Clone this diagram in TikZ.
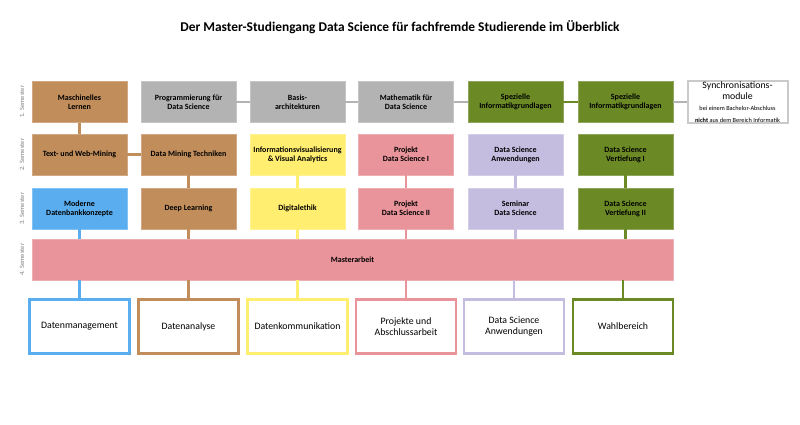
\documentclass[tikz,border=0pt]{standalone}
\usepackage{fontspec}
\setmainfont{Carlito}
\definecolor{braun}{RGB}{193,141,91}
\definecolor{grau}{RGB}{179,179,179}
\definecolor{gelb}{RGB}{255,238,112}
\definecolor{rosa}{RGB}{232,148,154}
\definecolor{lila}{RGB}{196,189,224}
\definecolor{gruen}{RGB}{107,137,37}
\definecolor{blau}{RGB}{90,174,240}

\begin{document}
\begin{tikzpicture}[x=1pt,y=-1pt,
  modul/.style={draw=#1!75!white, fill=#1, minimum width=95pt, minimum height=41pt, inner sep=1pt, align=center, font=\fontsize{8}{9}\selectfont\bfseries},
  bereich/.style={draw=#1, line width=2.2pt, fill=white, minimum width=100pt, minimum height=54pt, align=center, font=\fontsize{9.8}{10.8}\selectfont},
  verb/.style={draw=#1, line width=2.2pt},
  sem/.style={rotate=90, text=gray, font=\fontsize{6.5}{7}\selectfont}]
\useasboundingbox (0,0) rectangle (800,425);

\node (titel) at (400,27) {\fontsize{13.4}{15}\selectfont\bfseries Der Master-Studiengang Data Science für fachfremde Studierende im Überblick};

\node[sem] (s1) at (22,101.5) {1. Semester};
\node[sem] (s2) at (22,154.5) {2. Semester};
\node[sem] (s3) at (22,208.5) {3. Semester};
\node[sem] (s4) at (22,259.5) {4. Semester};

\node[modul=braun] (m11) at (79.5,102) {Maschinelles\\Lernen};
\node[modul=grau] (m12) at (188.5,102) {Programmierung für\\Data Science};
\node[modul=grau] (m13) at (297.5,102) {Basis-\\architekturen};
\node[modul=grau] (m14) at (406,102) {Mathematik für\\Data Science};
\node[modul=gruen] (m15) at (515.5,102) {Spezielle\\Informatikgrundlagen};
\node[modul=gruen] (m16) at (625.5,102) {Spezielle\\Informatikgrundlagen};
\node[draw=grau!70!white, line width=2pt, fill=white, minimum width=100pt, minimum height=41pt, inner sep=1pt, align=center] (sync) at (737.5,102)
  {\fontsize{9.8}{10}\selectfont Synchronisations-\\[-1.5pt]\fontsize{9.8}{10}\selectfont module\\[-1pt]
   \fontsize{6.3}{7}\selectfont bei einem Bachelor-Abschluss\\\fontsize{6.3}{7}\selectfont\textbf{nicht} aus dem Bereich Informatik};

\node[modul=braun] (m21) at (79.5,154.5) {Text- und Web-Mining};
\node[modul=braun] (m22) at (188.5,154.5) {Data Mining Techniken};
\node[modul=gelb] (m23) at (297.5,154.5) {Informationsvisualisierung\\\& Visual Analytics};
\node[modul=rosa] (m24) at (406,154.5) {Projekt\\Data Science I};
\node[modul=lila] (m25) at (515.5,154.5) {Data Science\\Anwendungen};
\node[modul=gruen] (m26) at (625.5,154.5) {Data Science\\Vertiefung I};

\node[modul=blau] (m31) at (79.5,208.5) {Moderne\\Datenbankkonzepte};
\node[modul=braun] (m32) at (188.5,208.5) {Deep Learning};
\node[modul=gelb] (m33) at (297.5,208.5) {Digitalethik};
\node[modul=rosa] (m34) at (406,208.5) {Projekt\\Data Science II};
\node[modul=lila] (m35) at (515.5,208.5) {Seminar\\Data Science};
\node[modul=gruen] (m36) at (625.5,208.5) {Data Science\\Vertiefung II};

\node[modul=rosa, minimum width=641pt] (master) at (352.5,259.5) {Masterarbeit};

\node[bereich=blau] (b1) at (79.5,326.5) {Datenmanagement};
\node[bereich=braun] (b2) at (188.5,326.5) {Datenanalyse};
\node[bereich=gelb] (b3) at (297.5,326.5) {Datenkommunikation};
\node[bereich=rosa] (b4) at (406,326.5) {Projekte und\\Abschlussarbeit};
\node[bereich=lila] (b5) at (514,326.5) {Data Science\\Anwendungen};
\node[bereich=gruen] (b6) at (623,326.5) {Wahlbereich};

\draw[verb=grau] (m12) -- (m13);
\draw[verb=grau] (m13) -- (m14);
\draw[verb=grau] (m14) -- (m15);
\draw[verb=gruen] (m15) -- (m16);
\draw[verb=grau] (m16) -- (sync);
\draw[verb=braun] (m11) -- (m21);
\draw[verb=braun] (m21) -- (m22);
\draw[verb=braun] (m22) -- (m32);
\draw[verb=gelb] (m23) -- (m33);
\draw[verb=rosa] (m24) -- (m34);
\draw[verb=lila] (m25) -- (m35);
\draw[verb=gruen] (m26) -- (m36);

\draw[verb=blau] (m31.south) -- (m31.south |- master.north);
\draw[verb=braun] (m32.south) -- (m32.south |- master.north);
\draw[verb=gelb] (m33.south) -- (m33.south |- master.north);
\draw[verb=rosa] (m34.south) -- (m34.south |- master.north);
\draw[verb=lila] (m35.south) -- (m35.south |- master.north);
\draw[verb=gruen] (m36.south) -- (m36.south |- master.north);

\draw[verb=blau] (b1.north) -- (b1.north |- master.south);
\draw[verb=braun] (b2.north) -- (b2.north |- master.south);
\draw[verb=gelb] (b3.north) -- (b3.north |- master.south);
\draw[verb=rosa] (b4.north) -- (b4.north |- master.south);
\draw[verb=lila] (b5.north) -- (b5.north |- master.south);
\draw[verb=gruen] (b6.north) -- (b6.north |- master.south);
\end{tikzpicture}
\end{document}
